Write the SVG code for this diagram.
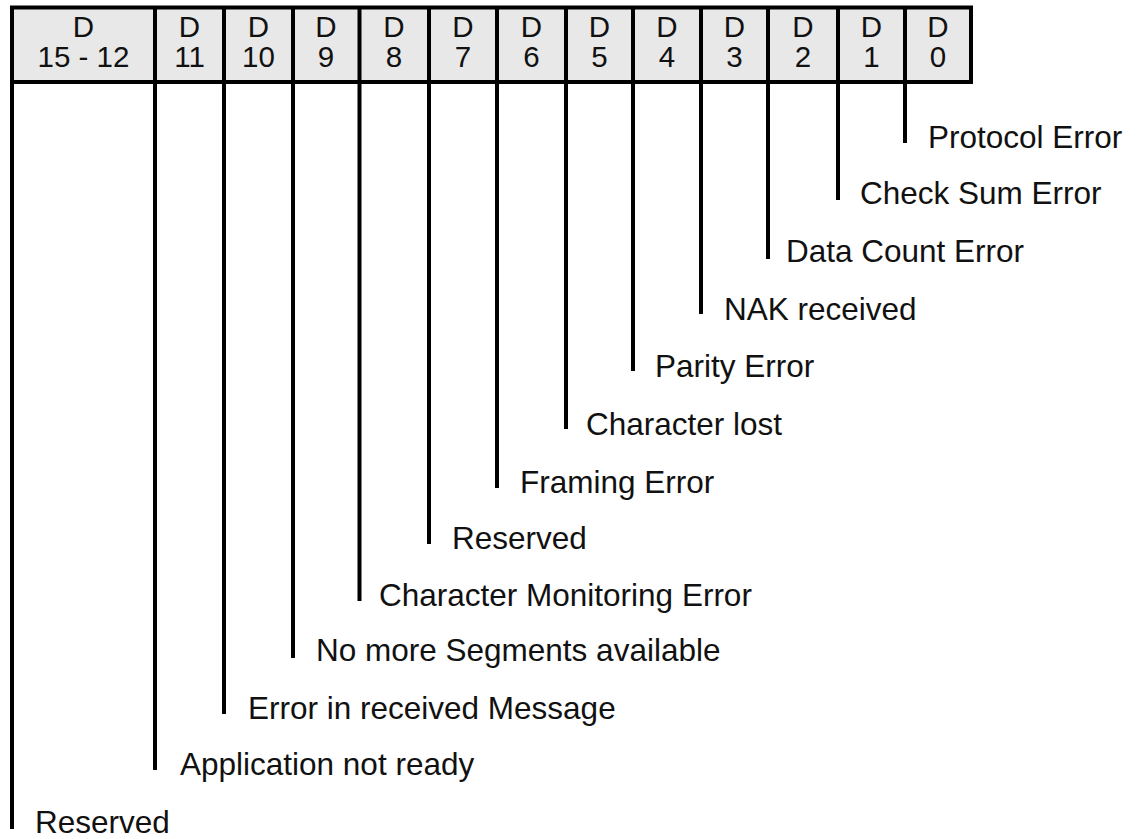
<svg xmlns="http://www.w3.org/2000/svg" width="1138" height="839" viewBox="0 0 1138 839">
<style>
.hdr{fill:#e8e8e8;stroke:none}
.ln{stroke:#000;stroke-width:4;fill:none}
.ht{font-family:"Liberation Sans",Arial,sans-serif;font-size:29.5px;fill:#111;text-anchor:middle}
.lb{font-family:"Liberation Sans",Arial,sans-serif;font-size:31.5px;fill:#111}
</style>
<rect width="1138" height="839" fill="#fff"/>
<g id="header">
<rect class="hdr" x="12" y="7.5" width="959" height="74.5"/>
<line class="ln" x1="10" y1="7.5" x2="973" y2="7.5"/>
<line class="ln" x1="10" y1="82" x2="973" y2="82"/>
<line class="ln" x1="971" y1="7.5" x2="971" y2="82"/>
</g>
<g id="cell-15-12"><text class="ht" x="83.5" y="37">D</text><text class="ht" x="83.5" y="67">15 - 12</text></g>
<g id="cell-11"><text class="ht" x="189.5" y="37">D</text><text class="ht" x="189.5" y="67">11</text></g>
<g id="cell-10"><text class="ht" x="258.5" y="37">D</text><text class="ht" x="258.5" y="67">10</text></g>
<g id="cell-9"><text class="ht" x="326" y="37">D</text><text class="ht" x="326" y="67">9</text></g>
<g id="cell-8"><text class="ht" x="394" y="37">D</text><text class="ht" x="394" y="67">8</text></g>
<g id="cell-7"><text class="ht" x="463" y="37">D</text><text class="ht" x="463" y="67">7</text></g>
<g id="cell-6"><text class="ht" x="531.5" y="37">D</text><text class="ht" x="531.5" y="67">6</text></g>
<g id="cell-5"><text class="ht" x="599.5" y="37">D</text><text class="ht" x="599.5" y="67">5</text></g>
<g id="cell-4"><text class="ht" x="667" y="37">D</text><text class="ht" x="667" y="67">4</text></g>
<g id="cell-3"><text class="ht" x="734.5" y="37">D</text><text class="ht" x="734.5" y="67">3</text></g>
<g id="cell-2"><text class="ht" x="803" y="37">D</text><text class="ht" x="803" y="67">2</text></g>
<g id="cell-1"><text class="ht" x="871.5" y="37">D</text><text class="ht" x="871.5" y="67">1</text></g>
<g id="cell-0"><text class="ht" x="938" y="37">D</text><text class="ht" x="938" y="67">0</text></g>
<g id="connectors">
<line class="ln" x1="12" y1="6" x2="12" y2="829"/>
<line class="ln" x1="155" y1="6" x2="155" y2="770"/>
<line class="ln" x1="224" y1="6" x2="224" y2="714"/>
<line class="ln" x1="293" y1="6" x2="293" y2="658"/>
<line class="ln" x1="359.5" y1="6" x2="359.5" y2="601"/>
<line class="ln" x1="429" y1="6" x2="429" y2="544"/>
<line class="ln" x1="497" y1="6" x2="497" y2="488"/>
<line class="ln" x1="566" y1="6" x2="566" y2="429"/>
<line class="ln" x1="633" y1="6" x2="633" y2="371"/>
<line class="ln" x1="701" y1="6" x2="701" y2="314"/>
<line class="ln" x1="768" y1="6" x2="768" y2="259"/>
<line class="ln" x1="838" y1="6" x2="838" y2="200"/>
<line class="ln" x1="905" y1="6" x2="905" y2="143"/>
</g>
<g id="label-0"><text class="lb" x="928" y="148">Protocol Error</text></g>
<g id="label-1"><text class="lb" x="860" y="204">Check Sum Error</text></g>
<g id="label-2"><text class="lb" x="786" y="262">Data Count Error</text></g>
<g id="label-3"><text class="lb" x="724" y="320">NAK received</text></g>
<g id="label-4"><text class="lb" x="655" y="377">Parity Error</text></g>
<g id="label-5"><text class="lb" x="586" y="435">Character lost</text></g>
<g id="label-6"><text class="lb" x="520" y="493">Framing Error</text></g>
<g id="label-7"><text class="lb" x="452" y="549">Reserved</text></g>
<g id="label-8"><text class="lb" x="379" y="606">Character Monitoring Error</text></g>
<g id="label-9"><text class="lb" x="316" y="661">No more Segments available</text></g>
<g id="label-10"><text class="lb" x="248" y="719">Error in received Message</text></g>
<g id="label-11"><text class="lb" x="180" y="775">Application not ready</text></g>
<g id="label-12"><text class="lb" x="35" y="833">Reserved</text></g>
</svg>
